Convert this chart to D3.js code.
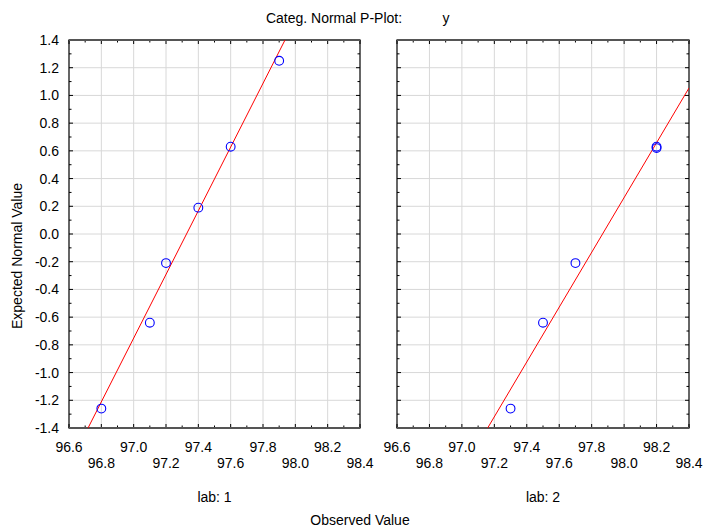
<!DOCTYPE html>
<html>
<head>
<meta charset="utf-8">
<script src="https://cdn.jsdelivr.net/npm/d3@7"></script>
<style>
  body { margin: 0; background: #fff; }
  text { font-family: "Liberation Sans", Arial, sans-serif; fill: #000; font-size: 14px; }
</style>
</head>
<body>
<div id="chart"></div>
<script>
// categories (one panel each)
const panelLabels = ["lab: 1", "lab: 2"];

// observed values and expected normal values per panel
const observed1 = [96.8, 97.1, 97.2, 97.4, 97.6, 97.9];
const expected1 = [-1.26, -0.64, -0.21, 0.19, 0.63, 1.25];
const observed2 = [97.3, 97.5, 97.7, 98.2, 98.2];
const expected2 = [-1.26, -0.64, -0.21, 0.63, 0.62];

// fitted lines: y = slope * (x - x0)
const fitSlope = [2.298, 1.977];
const fitX0 = [97.327, 97.867];

const xTicks = [96.6, 96.8, 97.0, 97.2, 97.4, 97.6, 97.8, 98.0, 98.2, 98.4];
const yTicks = [-1.4, -1.2, -1.0, -0.8, -0.6, -0.4, -0.2, 0.0, 0.2, 0.4, 0.6, 0.8, 1.0, 1.2, 1.4];

const width = 706, height = 528;
const plotTop = 40, plotBottom = 428;
const panelX = [[69, 360], [397, 689]];

const svg = d3.select("#chart").append("svg")
  .attr("width", width)
  .attr("height", height);

const y = d3.scaleLinear().domain([-1.4, 1.4]).range([plotBottom, plotTop]);

const panels = [
  { obs: observed1, exp: expected1 },
  { obs: observed2, exp: expected2 }
];

panels.forEach(function (p, i) {
  const x = d3.scaleLinear().domain([96.6, 98.4]).range(panelX[i]);
  const g = svg.append("g");

  const clipId = "clip" + i;
  svg.append("clipPath").attr("id", clipId)
    .append("rect")
    .attr("x", panelX[i][0]).attr("y", plotTop)
    .attr("width", panelX[i][1] - panelX[i][0]).attr("height", plotBottom - plotTop);

  // grid
  g.selectAll(".vgrid").data(xTicks.slice(1, -1)).enter().append("line")
    .attr("x1", d => x(d)).attr("x2", d => x(d))
    .attr("y1", plotTop).attr("y2", plotBottom)
    .attr("stroke", "#d8d8d8").attr("stroke-width", 1);
  g.selectAll(".hgrid").data(yTicks.slice(1, -1)).enter().append("line")
    .attr("y1", d => y(d)).attr("y2", d => y(d))
    .attr("x1", panelX[i][0]).attr("x2", panelX[i][1])
    .attr("stroke", "#d8d8d8").attr("stroke-width", 1);

  // minor ticks (every 0.1) inward
  const xMinor = d3.range(0, 19).map(k => 96.6 + k * 0.1);
  const yMinor = d3.range(0, 29).map(k => -1.4 + k * 0.1);
  const tickLen = (k) => (k % 2 === 0 ? 4 : 2.5);
  xMinor.forEach(function (v, k) {
    g.append("line").attr("x1", x(v)).attr("x2", x(v))
      .attr("y1", plotBottom).attr("y2", plotBottom - tickLen(k)).attr("stroke", "#000");
    g.append("line").attr("x1", x(v)).attr("x2", x(v))
      .attr("y1", plotTop).attr("y2", plotTop + tickLen(k)).attr("stroke", "#000");
  });
  yMinor.forEach(function (v, k) {
    g.append("line").attr("y1", y(v)).attr("y2", y(v))
      .attr("x1", panelX[i][0]).attr("x2", panelX[i][0] + tickLen(k)).attr("stroke", "#000");
    g.append("line").attr("y1", y(v)).attr("y2", y(v))
      .attr("x1", panelX[i][1]).attr("x2", panelX[i][1] - tickLen(k)).attr("stroke", "#000");
  });

  // frame
  g.append("rect")
    .attr("x", panelX[i][0]).attr("y", plotTop)
    .attr("width", panelX[i][1] - panelX[i][0]).attr("height", plotBottom - plotTop)
    .attr("fill", "none").attr("stroke", "#000").attr("stroke-width", 1.2);
  g.append("line").attr("x1", panelX[i][0]).attr("x2", panelX[i][1])
    .attr("y1", plotTop).attr("y2", plotTop).attr("stroke", "#555").attr("stroke-width", 2);
  g.append("line").attr("x1", panelX[i][0]).attr("x2", panelX[i][1])
    .attr("y1", plotBottom).attr("y2", plotBottom).attr("stroke", "#555").attr("stroke-width", 2);

  // fitted line
  const lineX = [96.6, 98.4];
  g.append("line")
    .attr("clip-path", "url(#" + clipId + ")")
    .attr("x1", x(lineX[0])).attr("y1", y(fitSlope[i] * (lineX[0] - fitX0[i])))
    .attr("x2", x(lineX[1])).attr("y2", y(fitSlope[i] * (lineX[1] - fitX0[i])))
    .attr("stroke", "#ff0000").attr("stroke-width", 1);

  // points
  g.selectAll(".pt").data(p.obs).enter().append("circle")
    .attr("cx", d => x(d))
    .attr("cy", (d, k) => y(p.exp[k]))
    .attr("r", 4.4)
    .attr("fill", "none").attr("stroke", "#0000ff").attr("stroke-width", 1.1);

  // x tick labels in two rows
  g.selectAll(".xl").data(xTicks).enter().append("text")
    .attr("x", d => x(d))
    .attr("y", (d, k) => (k % 2 === 0 ? 452 : 468))
    .attr("text-anchor", "middle")
    .text(d => d.toFixed(1));

  // panel label
  svg.append("text")
    .attr("x", (panelX[i][0] + panelX[i][1]) / 2)
    .attr("y", 502)
    .attr("text-anchor", "middle")
    .text(panelLabels[i]);
});

// y tick labels
svg.selectAll(".yl").data(yTicks).enter().append("text")
  .attr("x", 59)
  .attr("y", d => y(d) + 5)
  .attr("text-anchor", "end")
  .text(d => d.toFixed(1));

// titles
svg.append("text").attr("x", 334).attr("y", 23).attr("text-anchor", "middle")
  .text("Categ. Normal P-Plot:");
svg.append("text").attr("x", 446).attr("y", 23).attr("text-anchor", "middle")
  .text("y");
svg.append("text").attr("x", 360).attr("y", 525).attr("text-anchor", "middle")
  .text("Observed Value");
svg.append("text")
  .attr("transform", "translate(22, 256) rotate(-90)")
  .attr("text-anchor", "middle")
  .text("Expected Normal Value");
</script>
</body>
</html>
